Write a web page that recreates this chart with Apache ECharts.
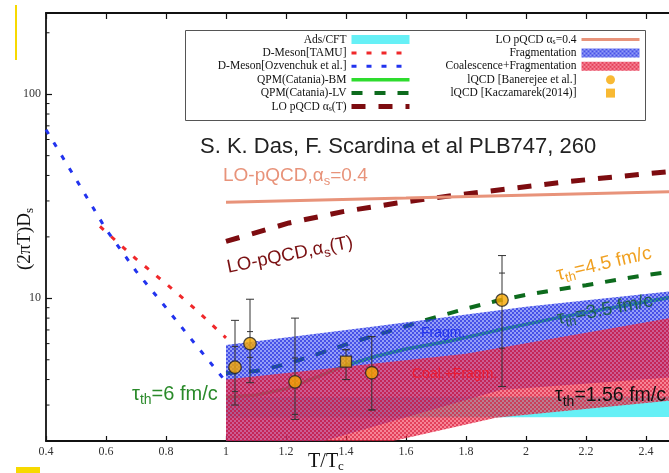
<!DOCTYPE html>
<html>
<head>
<meta charset="utf-8">
<script src="https://cdn.jsdelivr.net/npm/echarts@6/dist/echarts.min.js"></script>
<style>
  html, body { margin: 0; padding: 0; background: #fff; }
  #chart { width: 669px; height: 473px; }
</style>
</head>
<body>
<div id="chart"></div>
<script>
// Heavy-quark spatial diffusion coefficient (2πT)Ds vs T/Tc, log y.
// Values.

// D-meson curves below Tc
const ozvenchuk = [[0.4, 67], [0.5, 38.3], [0.6, 21.8], [0.7, 13.6], [0.8, 9.0], [0.9, 5.9], [1.0, 3.9]];
const tamu = [[0.58, 22.5], [0.7, 15.6], [0.8, 11.8], [0.9, 8.8], [1.0, 6.4]];

// QPM and pQCD curves above Tc
const qpmBM = [[1.0, 3.28], [1.1, 3.36], [1.2, 3.6], [1.3, 4.1], [1.4, 4.7], [1.5, 5.2], [1.6, 5.65],
  [1.75, 6.2], [1.9, 6.95], [2.1, 8.0], [2.25, 8.8], [2.48, 10.1]];
const qpmLV = [[1.0, 4.3], [1.1, 4.4], [1.2, 4.75], [1.3, 5.3], [1.4, 5.95], [1.5, 6.6], [1.6, 7.3],
  [1.7, 8.1], [1.8, 8.9], [1.9, 9.7], [2.0, 10.4], [2.1, 11.0], [2.2, 11.6], [2.3, 12.3], [2.4, 13.0], [2.48, 13.5]];
const pqcdAlphaT = [[1.0, 19.0], [1.21, 23.4], [1.39, 26.6], [1.57, 29.3], [1.75, 31.8], [1.94, 34.4],
  [2.13, 37.2], [2.3, 39.4], [2.41, 40.9], [2.48, 41.8]];
const pqcdFixed = [[1.0, 29.6], [1.6, 31.0], [2.48, 33.3]];

// bands (upper / lower edges)
const fragTop = [[1.0, 5.9], [1.5, 7.3], [2.0, 9.1], [2.48, 10.8]];
const fragBottom = [[1.0, 1.5], [1.316, 1.98], [1.915, 3.56], [2.48, 4.1]];
const coalTop = [[1.0, 4.0], [1.8, 5.35], [2.48, 8.0]];
const coalBottom = [[1.0, 1.5], [1.544, 1.98], [1.9, 2.6], [2.48, 3.15]];
const adsTop = [[1.0, 3.28], [2.48, 3.3]];
const adsBottom = [[1.0, 2.6], [2.48, 2.62]];

// lattice QCD points with outer (total) and inner (stat) error bars
const banX = [1.03, 1.08, 1.23, 1.486, 1.92];
const banY = [4.6, 6.0, 3.9, 4.32, 9.8];
const banLo = [3.0, 3.86, 2.55, 2.84, 3.7];
const banHi = [7.8, 9.9, 8.0, 6.49, 16.2];
const banStatLo = [3.5, 5.14, 2.7, 2.84, 5.7];
const banStatHi = [5.8, 6.87, 5.1, 6.49, 13.3];
const kacX = [1.4];
const kacY = [4.9];
const kacLo = [4.0];
const kacHi = [5.6];

const yMinorTicks = [3, 4, 5, 6, 7, 8, 9, 20, 30, 40, 50, 60, 70, 80, 90, 200];

const legendLeft = ['Ads/CFT', 'D-Meson[TAMU]', 'D-Meson[Ozvenchuk et al.]', 'QPM(Catania)-BM', 'QPM(Catania)-LV', 'LO pQCD αs(T)'];
const legendRight = ['LO pQCD αs=0.4', 'Fragmentation', 'Coalescence+Fragmentation', 'lQCD [Banerejee et al.]', 'lQCD [Kaczamarek(2014)]'];

const SERIF = '"Liberation Serif", "DejaVu Serif", serif';
const SANS = '"Liberation Sans", Arial, sans-serif';

// fine checkered fill like the hatched bands of the original
function checker(base, dots) {
  const c = document.createElement('canvas');
  c.width = 4; c.height = 4;
  const g = c.getContext('2d');
  g.fillStyle = base; g.fillRect(0, 0, 4, 4);
  g.fillStyle = dots;
  g.fillRect(0, 0, 2, 2); g.fillRect(2, 2, 2, 2);
  return { image: c, repeat: 'repeat' };
}
const BLUE_FILL = checker('rgba(60,80,240,0.55)', 'rgba(20,30,220,0.6)');
const RED_FILL = checker('rgba(240,50,80,0.6)', 'rgba(215,20,50,0.6)');
const ADS_FILL = '#66f0f6';
const ORANGE = '#f6a800';

function band(name, top, bottom, fill, z) {
  return {
    name, type: 'custom', z, clip: true, silent: true,
    itemStyle: { color: fill },
    data: [top[0]], encode: { x: 0, y: 1 },
    renderItem: (params, api) => {
      const pts = top.map((p) => api.coord(p))
        .concat(bottom.slice().reverse().map((p) => api.coord(p)));
      return { type: 'polygon', shape: { points: pts }, style: { fill } };
    },
  };
}

function curve(name, data, color, width, dash, z) {
  return {
    name, type: 'line', data, z, symbol: 'none', silent: true, clip: true,
    lineStyle: { color, width, type: dash || 'solid', cap: 'butt' }, itemStyle: { color },
  };
}

const errRows = banX.map((x, i) => [x, banY[i], banLo[i], banHi[i], banStatLo[i], banStatHi[i]])
  .concat(kacX.map((x, i) => [x, kacY[i], kacLo[i], kacHi[i], kacLo[i], kacHi[i]]));

function rich(color, size) {
  return {
    t: { fill: color, fontSize: size, fontFamily: SANS },
    s: { fill: color, fontSize: Math.round(size * 0.7), fontFamily: SANS, padding: [Math.round(size * 0.6), 0, 0, 0] },
  };
}
function note(text, x, y, color, size, rot, align) {
  return {
    type: 'text', x, y, rotation: rot || 0, z: 50,
    style: {
      text, rich: rich(color, size), fill: color, fontSize: size, fontFamily: SANS,
      align: align || 'left', textAlign: align || 'left', verticalAlign: 'middle', textVerticalAlign: 'middle',
    },
  };
}

// legend line swatches: hide the series symbol, keep the line
const noDot = { opacity: 0 };
const legendBase = {
  orient: 'vertical', align: 'right', top: 33, itemWidth: 58, itemHeight: 9, itemGap: 0.4, padding: 0,
  selectedMode: false, lineStyle: { width: 'inherit' },
  textStyle: { fontFamily: SERIF, fontSize: 11.5, color: '#111', lineHeight: 13,
    rich: { s: { fontFamily: SERIF, fontSize: 8, padding: [5, 0, 0, 0], lineHeight: 8 } } },
  formatter: (n) => n.replace('αs', 'α{s|s}'),
};

const axisLine = { lineStyle: { color: '#111', width: 1.8 } };

const chart = echarts.init(document.getElementById('chart'));
chart.setOption({
  animation: false,
  backgroundColor: '#fff',
  grid: { left: 46, right: -1, top: 13, bottom: 32, outerBoundsMode: 'none' },
  xAxis: [
    { type: 'value', min: 0.4, max: 2.48, interval: 0.2,
      name: 'T/T{c|c}', nameLocation: 'middle', nameGap: 9, nameMoveOverlap: false,
      nameTextStyle: { fontFamily: SERIF, fontSize: 20, color: '#111', padding: [0, 64, 0, 0],
        rich: { c: { fontFamily: SERIF, fontSize: 13, color: '#111', padding: [10, 0, 0, 0] } } },
      axisLine, axisTick: { inside: true, length: 5, lineStyle: { color: '#111', width: 1.2 } },
      axisLabel: { fontFamily: SERIF, fontSize: 12, color: '#333', margin: 5, showMaxLabel: false },
      splitLine: { show: false } },
    { type: 'value', position: 'top', min: 0.4, max: 2.48, interval: 0.2,
      axisLine, axisTick: { inside: true, length: 6, lineStyle: { color: '#111', width: 1.2 } },
      axisLabel: { show: false }, splitLine: { show: false } },
  ],
  yAxis: {
    type: 'log', logBase: 10, min: 2, max: 250,
    name: '(2πT)D{s|s}', nameLocation: 'middle', nameGap: 10, nameMoveOverlap: false,
    nameTextStyle: { fontFamily: SERIF, fontSize: 19, color: '#111', padding: [0, 24, 0, 0],
      rich: { s: { fontFamily: SERIF, fontSize: 13, color: '#111', padding: [9, 0, 0, 0] } } },
    axisLine, axisTick: { inside: true, length: 6, lineStyle: { color: '#111', width: 1.2 } },
    axisLabel: { fontFamily: SERIF, fontSize: 12, color: '#333', margin: 5, showMinLabel: false, showMaxLabel: false },
    splitLine: { show: false },
  },
  legend: [
    Object.assign({}, legendBase, {
      right: 257,
      data: [
        { name: legendLeft[0], icon: 'rect', itemStyle: { color: ADS_FILL } },
        { name: legendLeft[1], itemStyle: noDot },
        { name: legendLeft[2], itemStyle: noDot },
        { name: legendLeft[3], itemStyle: noDot },
        { name: legendLeft[4], itemStyle: noDot },
        { name: legendLeft[5], itemStyle: noDot },
      ],
    }),
    Object.assign({}, legendBase, {
      right: 28,
      data: [
        { name: legendRight[0], itemStyle: noDot },
        { name: legendRight[1], icon: 'rect', itemStyle: { color: BLUE_FILL } },
        { name: legendRight[2], icon: 'rect', itemStyle: { color: RED_FILL } },
        { name: legendRight[3], itemStyle: { borderWidth: 0 } },
        { name: legendRight[4], icon: 'path://M0,0h10v10h-10z', itemStyle: { borderWidth: 0 } },
      ],
    }),
  ],
  graphic: [
    { type: 'rect', shape: { x: 185.5, y: 30.5, width: 460, height: 90 }, z: 0,
      style: { fill: '#fff', stroke: '#555', lineWidth: 1 } },
    { type: 'rect', shape: { x: 15, y: 5, width: 2, height: 55 }, style: { fill: '#f7d900' } },
    { type: 'rect', shape: { x: 16, y: 467, width: 24, height: 6 }, style: { fill: '#f7d900' } },
    note('S. K. Das, F. Scardina et al PLB747, 260', 200, 147, '#222', 22),
    note('{t|LO-pQCD,α}{s|s}{t|=0.4}', 223, 176, '#e8937a', 19),
    note('{t|LO-pQCD,α}{s|s}{t|(T)}', 290, 255, '#7a1012', 18.5, 0.2, 'center'),
    note('{t|τ}{s|th}{t|=4.5 fm/c}', 604, 264, '#f0a020', 19, 0.23, 'center'),
    note('{t|τ}{s|th}{t|=3.5 fm/c}', 605, 310, '#1f5f55', 19, 0.19, 'center'),
    note('{t|τ}{s|th}{t|=1.56 fm/c}', 555, 396, '#111', 19.5),
    note('{t|τ}{s|th}{t|=6 fm/c}', 132, 394, '#2a8a2a', 20),
    note('Fragm.', 421, 333, '#2233ee', 14),
    note('Coal.+Fragm.', 412, 374, '#ee1a30', 14),
  ],
  series: [
    band('Ads/CFT', adsTop, adsBottom, ADS_FILL, 1),
    curve('QPM(Catania)-BM', qpmBM, '#2edc2e', 3.5, null, 2),
    curve('QPM(Catania)-LV', qpmLV, '#0d6b1d', 4, [11, 12], 2),
    band('Fragmentation', fragTop, fragBottom, BLUE_FILL, 3),
    band('Coalescence+Fragmentation', coalTop, coalBottom, RED_FILL, 4),
    curve('D-Meson[TAMU]', tamu, '#f0282a', 3, [5, 10], 5),
    curve('D-Meson[Ozvenchuk et al.]', ozvenchuk, '#2233ee', 3, [5, 10], 5),
    curve('LO pQCD αs(T)', pqcdAlphaT, '#7d0c10', 5, [14, 13], 5),
    curve('LO pQCD αs=0.4', pqcdFixed, '#e8937a', 3, null, 5),
    {
      type: 'custom', z: 6, silent: true, data: errRows, encode: { x: 0, y: 1 },
      renderItem: (params, api) => {
        const x = api.value(0);
        const lo = api.coord([x, api.value(2)]), hi = api.coord([x, api.value(3)]);
        const sLo = api.coord([x, api.value(4)]), sHi = api.coord([x, api.value(5)]);
        const st = { stroke: '#333', lineWidth: 1 };
        const cap = (p, w) => ({ type: 'line', shape: { x1: p[0] - w, y1: p[1], x2: p[0] + w, y2: p[1] }, style: st });
        return { type: 'group', children: [
          { type: 'line', shape: { x1: lo[0], y1: lo[1], x2: hi[0], y2: hi[1] }, style: st },
          cap(lo, 4), cap(hi, 4), cap(sLo, 3), cap(sHi, 3),
        ] };
      },
    },
    { name: 'lQCD [Banerejee et al.]', type: 'scatter', z: 7, symbol: 'circle', symbolSize: 12.5,
      data: banX.map((x, i) => [x, banY[i]]),
      itemStyle: { color: ORANGE, borderColor: '#222', borderWidth: 1.3 } },
    { name: 'lQCD [Kaczamarek(2014)]', type: 'scatter', z: 7, symbol: 'rect', symbolSize: 11,
      data: kacX.map((x, i) => [x, kacY[i]]),
      itemStyle: { color: ORANGE, borderColor: '#222', borderWidth: 1.3 } },
    {
      // log-axis minor ticks (2..9 per decade), inward like the original
      type: 'custom', z: 8, silent: true, data: [[0.4, 10]], encode: { x: 0, y: 1 },
      renderItem: (params, api) => ({
        type: 'group',
        children: yMinorTicks.map((v) => {
          const p = api.coord([0.4, v]);
          return { type: 'line', shape: { x1: p[0], y1: p[1], x2: p[0] + 3.5, y2: p[1] },
            style: { stroke: '#111', lineWidth: 1 } };
        }),
      }),
    },
  ],
});
</script>
</body>
</html>
